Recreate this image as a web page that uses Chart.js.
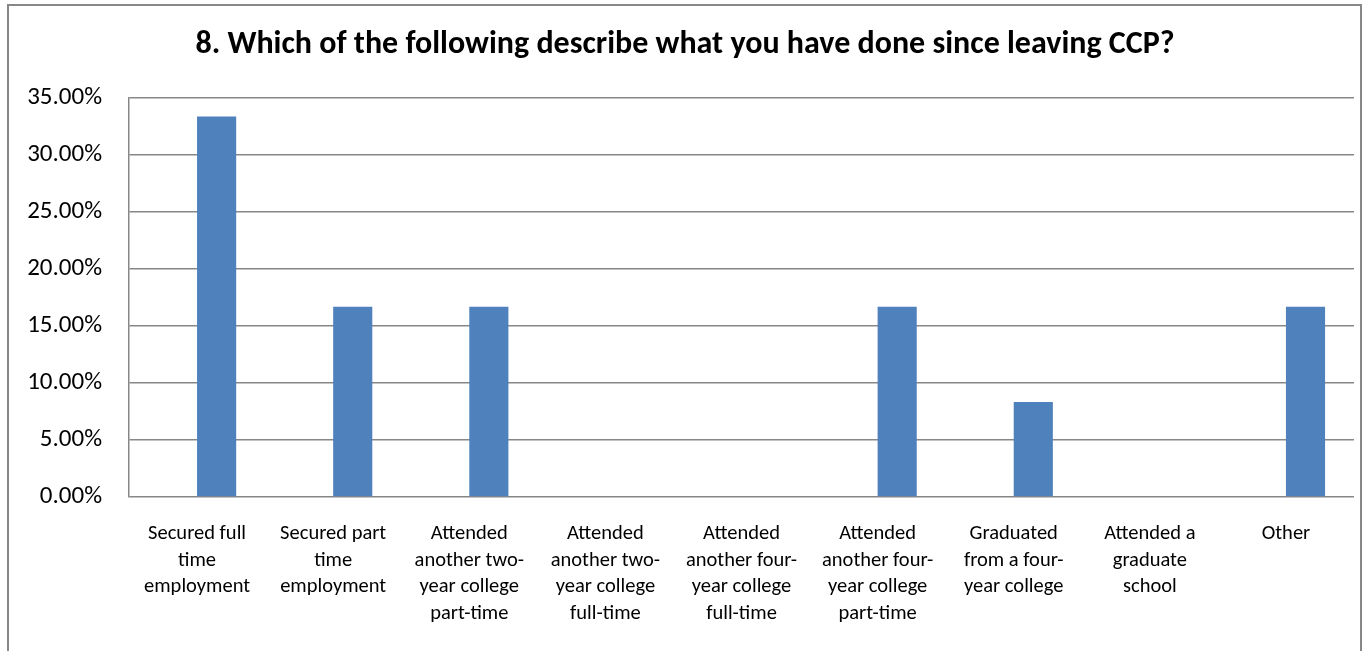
<!DOCTYPE html>
<html>
<head>
<meta charset="utf-8">
<script src="https://cdn.jsdelivr.net/npm/chart.js@4/dist/chart.umd.min.js"></script>
<style>
    html, body { margin: 0; padding: 0; background: #fff; overflow: hidden; }
    #wrap { position: relative; width: 1365px; height: 651px; }
    #frame {
        position: absolute; left: 7px; top: 4px; width: 1351px; height: 700px;
        border: 2px solid #878787; pointer-events: none;
    }
    canvas { position: absolute; left: 0; top: 0; }
</style>
</head>
<body>
<div id="wrap">
    <canvas id="chart" width="1365" height="651"></canvas>
    <div id="frame"></div>
</div>
<script>
    // Survey question 8: share of respondents per outcome (percent).
    var categories = [
        ["Secured full", "time", "employment"],
        ["Secured part", "time", "employment"],
        ["Attended", "another two-", "year college", "part-time"],
        ["Attended", "another two-", "year college", "full-time"],
        ["Attended", "another four-", "year college", "full-time"],
        ["Attended", "another four-", "year college", "part-time"],
        ["Graduated", "from a four-", "year college"],
        ["Attended a", "graduate", "school"],
        ["Other"]
    ];
    // The source sheet has an empty first series, which is why the blue bars
    // sit right of each category centre.
    var emptySeries = [0, 0, 0, 0, 0, 0, 0, 0, 0];
    var shares = [33.33, 16.67, 16.67, 0, 0, 16.67, 8.33, 0, 16.67];
    var yTicks = [0, 5, 10, 15, 20, 25, 30, 35];

    var font = "Carlito, Calibri, Lato, sans-serif";
    var grid = "#878787";

    new Chart(document.getElementById("chart"), {
        type: "bar",
        data: {
            labels: categories,
            datasets: [
                {
                    data: emptySeries,
                    backgroundColor: "#C0504D",
                    categoryPercentage: 0.575,
                    barPercentage: 1
                },
                {
                    data: shares,
                    backgroundColor: "#4F81BD",
                    categoryPercentage: 0.575,
                    barPercentage: 1
                }
            ]
        },
        options: {
            responsive: false,
            animation: false,
            layout: { padding: { left: 16, right: 11, top: 0, bottom: 0 } },
            plugins: {
                legend: { display: false },
                tooltip: { enabled: false },
                title: {
                    display: true,
                    text: "8. Which of the following describe what you have done since leaving CCP?",
                    color: "#000",
                    font: { family: font, size: 32, weight: "bold", lineHeight: 1.2 },
                    padding: { top: 26, bottom: 33 }
                }
            },
            scales: {
                x: {
                    grid: { display: false },
                    border: { display: false },
                    ticks: {
                        color: "#000",
                        maxRotation: 0,
                        autoSkip: false,
                        padding: 16,
                        font: { family: font, size: 20.5, lineHeight: 1.29 }
                    },
                    afterFit: function (s) { s.height = 154; }
                },
                y: {
                    min: 0,
                    max: 35,
                    afterBuildTicks: function (s) {
                        s.ticks = yTicks.map(function (v) { return { value: v }; });
                    },
                    grid: { color: grid, lineWidth: 1.5, drawTicks: false },
                    border: { color: grid, width: 1.5 },
                    ticks: {
                        color: "#000",
                        padding: 27,
                        font: { family: font, size: 25 },
                        callback: function (v) { return v.toFixed(2) + "%"; }
                    },
                    afterFit: function (s) { s.width = 113; }
                }
            }
        }
    });
</script>
</body>
</html>
